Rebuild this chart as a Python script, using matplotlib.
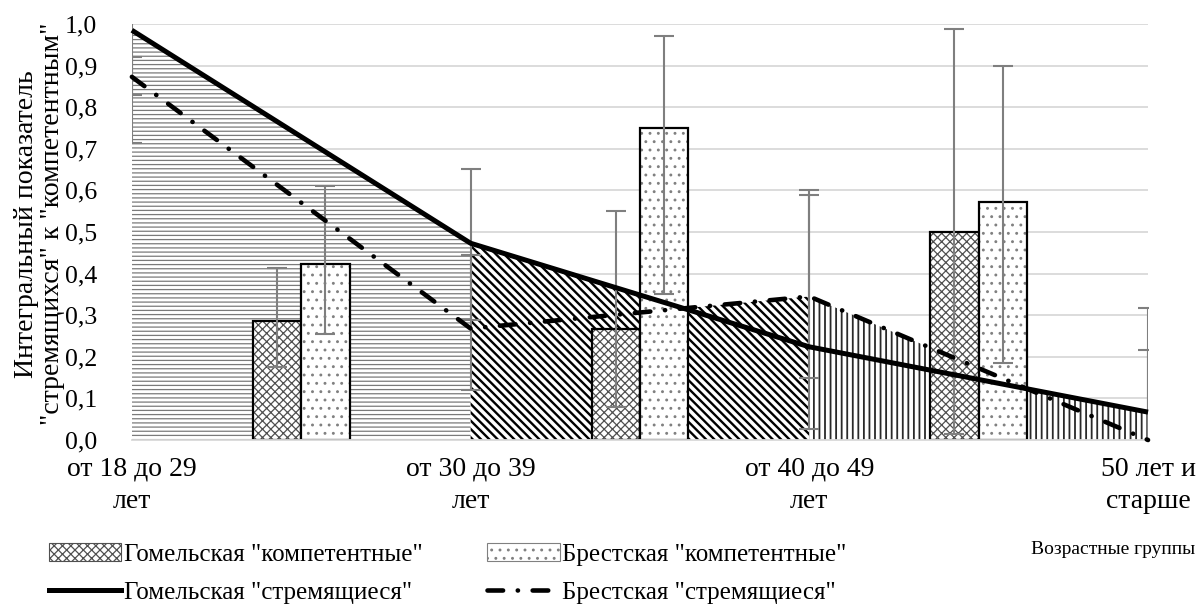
import numpy as np
import matplotlib.pyplot as plt
from matplotlib.patches import Patch
from matplotlib.lines import Line2D
from matplotlib.ticker import FuncFormatter

plt.rcParams['font.family'] = ['Liberation Serif', 'DejaVu Serif']

categories = ['от 18 до 29\nлет', 'от 30 до 39\nлет', 'от 40 до 49\nлет', '50 лет и\nстарше']

# "стремящиеся" lines (one value per age group) and their error ranges
gomel_line = [0.985, 0.473, 0.224, 0.067]
brest_line = [0.873, 0.268, 0.345, 0.0]
gomel_line_lo = [0.715, 0.288, 0.027, -0.18]
gomel_line_hi = [1.25, 0.652, 0.600, 0.318]
brest_line_lo = [0.83, 0.120, 0.150, -0.2]
brest_line_hi = [0.92, 0.445, 0.590, 0.216]

# "компетентные" bars sit between the age groups
bar_pos = [0.5, 1.5, 2.5]
gomel_bar = [0.286, 0.267, 0.500]
brest_bar = [0.423, 0.750, 0.572]
gomel_bar_lo = [0.176, 0.080, 0.014]
gomel_bar_hi = [0.414, 0.550, 0.988]
brest_bar_lo = [0.255, 0.351, 0.185]
brest_bar_hi = [0.610, 0.970, 0.900]

x = np.arange(len(categories))

fig, ax = plt.subplots(figsize=(11.99, 6.08), dpi=100)
fig.subplots_adjust(left=0.110, right=0.9575, top=0.9605, bottom=0.2763)

# hatched areas under the upper of the two lines, one pattern per interval
seg_hatch = ['----', '\\\\\\\\', '|||']
seg_color = ['#7a7a7a', 'black', '#2a2a2a']
seg_hlw = [0.9, 1.7, 1.3]
for i in range(len(categories) - 1):
    xs = np.linspace(x[i], x[i + 1], 200)
    top = np.maximum(np.interp(xs, x, gomel_line), np.interp(xs, x, brest_line))
    plt.rcParams['hatch.linewidth'] = seg_hlw[i]
    ax.fill(np.r_[xs, xs[::-1]], np.r_[top, np.zeros_like(top)],
            facecolor='white', edgecolor=seg_color[i], linewidth=0,
            hatch=seg_hatch[i], zorder=1)

# bars
w = 0.143
plt.rcParams['hatch.linewidth'] = 0.9
gx = np.array(bar_pos) - w / 2
bx = np.array(bar_pos) + w / 2
ax.bar(gx, gomel_bar, w, facecolor='white', edgecolor='#505050', hatch='xxxx',
       linewidth=0, zorder=2)
ax.bar(gx, gomel_bar, w, fill=False, edgecolor='black', linewidth=1.6, zorder=2)
ax.bar(bx, brest_bar, w, facecolor='white', edgecolor='#808080', hatch='..',
       linewidth=0, zorder=2)
ax.bar(bx, brest_bar, w, fill=False, edgecolor='black', linewidth=1.6, zorder=2)

err_kw = dict(fmt='none', ecolor='#7f7f7f', elinewidth=1.5, capsize=7,
              capthick=1.5, zorder=3)
ax.errorbar(gx, gomel_bar, yerr=[np.subtract(gomel_bar, gomel_bar_lo),
                                 np.subtract(gomel_bar_hi, gomel_bar)], **err_kw)
ax.errorbar(bx, brest_bar, yerr=[np.subtract(brest_bar, brest_bar_lo),
                                 np.subtract(brest_bar_hi, brest_bar)], **err_kw)
ax.errorbar(x, gomel_line, yerr=[np.subtract(gomel_line, gomel_line_lo),
                                 np.subtract(gomel_line_hi, gomel_line)], **err_kw)
ax.errorbar(x, brest_line, yerr=[np.subtract(brest_line, brest_line_lo),
                                 np.subtract(brest_line_hi, brest_line)], **err_kw)

# lines
dashdot = (0, (3.4, 3.2, 0.05, 3.2))
ax.plot(x, gomel_line, color='black', lw=3.6, solid_capstyle='butt',
        zorder=4, clip_on=False)
ax.plot(x, brest_line, color='black', lw=3.3, ls=dashdot,
        dash_capstyle='round', zorder=4, clip_on=False)

ax.set_xlim(0, 3)
ax.set_ylim(0, 1.0)
ax.set_yticks(np.arange(0, 1.01, 0.1))
ax.yaxis.set_major_formatter(FuncFormatter(lambda v, p: f'{v:.1f}'.replace('.', ',')))
ax.set_xticks(x)
ax.set_xticklabels(categories, linespacing=1.4)
ax.tick_params(axis='y', length=0, pad=25, labelsize=18.5)
ax.tick_params(axis='x', length=0, pad=12, labelsize=20)
ax.grid(axis='y', color='#d9d9d9', lw=1.3, zorder=0)
ax.set_axisbelow(True)
for s in ['left', 'right', 'top']:
    ax.spines[s].set_visible(False)
ax.spines['bottom'].set_color('#d9d9d9')
ax.spines['bottom'].set_linewidth(1.3)

fig.text(0.033, 0.632, 'Интегральный показатель\n"стремящихся" к "компетентным"',
         rotation=90, ha='center', va='center', fontsize=20, linespacing=1.05)
fig.text(0.997, 0.097, 'Возрастные группы', ha='right', va='center', fontsize=14)

handles = [
    Patch(facecolor='white', edgecolor='#505050', hatch='xxxx', lw=0.8),
    Line2D([], [], color='black', lw=3.6),
    Patch(facecolor='white', edgecolor='#808080', hatch='..', lw=0.8),
    Line2D([], [], color='black', lw=3.3, ls=dashdot, dash_capstyle='round'),
]
labels = ['Гомельская "компетентные"', 'Гомельская "стремящиеся"',
          'Брестская "компетентные"', 'Брестская "стремящиеся"']
fig.legend(handles, labels, ncol=2, loc='lower left', bbox_to_anchor=(0.026, -0.022),
           frameon=False, fontsize=18, handlelength=2.9, handletextpad=0.1,
           columnspacing=2.6, labelspacing=0.62, borderpad=0.2)

fig.savefig('out.png', dpi=100)
